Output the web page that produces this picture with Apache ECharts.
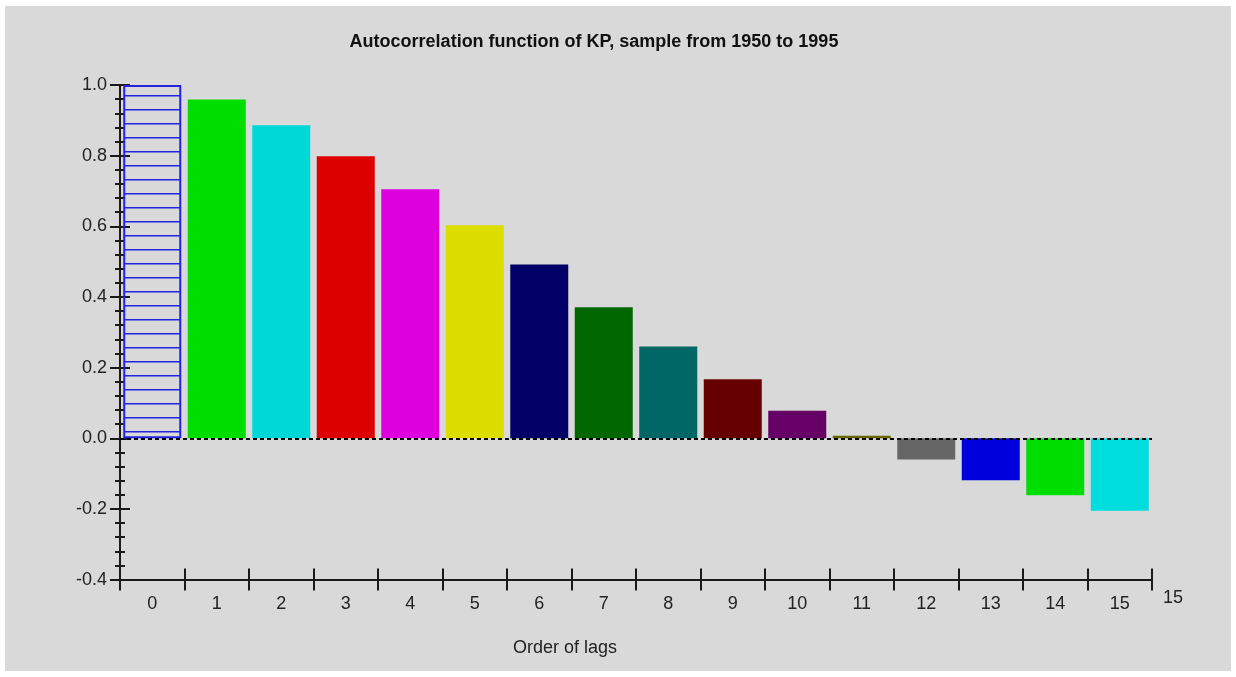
<!DOCTYPE html>
<html>
<head>
<meta charset="utf-8">
<script src="https://cdn.jsdelivr.net/npm/echarts@6/dist/echarts.min.js"></script>
<style>
html,body{margin:0;padding:0;background:#fff;}
#chart{width:1236px;height:677px;}
</style>
</head>
<body>
<div id="chart"></div>
<script>
// ---- data ----
const lags = ['0','1','2','3','4','5','6','7','8','9','10','11','12','13','14','15'];
const acf = [1.0, 0.959, 0.886, 0.798, 0.705, 0.603, 0.492, 0.371, 0.260, 0.167, 0.078, 0.007, -0.060, -0.119, -0.161, -0.205];
const yMin = -0.4, yMax = 1.0, yStep = 0.2;
const titleText = 'Autocorrelation function of KP, sample from 1950 to 1995';
const xAxisTitle = 'Order of lags';
const xAxisEndLabel = '15';

// ---- styles ----
const barColors = ['#2323e0','#00dd00','#00d8d8','#dd0000','#dd00dd','#dddd00','#000066','#006600',
                   '#006666','#660000','#660066','#666600','#666666','#0000dd','#00dd00','#00dddd'];
const FONT = "'Liberation Sans', Arial, sans-serif";

// hatch pattern for lag 0
const pc = document.createElement('canvas');
pc.width = 8; pc.height = 14;
const pctx = pc.getContext('2d');
pctx.fillStyle = '#2323e0';
pctx.fillRect(0, 11, 8, 1.5);

const data = acf.map((v, i) => {
  if (i === 0) {
    return { value: v, itemStyle: { color: { image: pc, repeat: 'repeat' }, borderColor: '#2323e0', borderWidth: 2 } };
  }
  return { value: v, itemStyle: { color: barColors[i] } };
});

const chart = echarts.init(document.getElementById('chart'));
const axisColor = '#1a1a1a';
chart.setOption({
  animation: false,
  backgroundColor: '#ffffff',
  graphic: [
    { type: 'rect', z: -100, zlevel: 0, silent: true, shape: { x: 5, y: 6, width: 1226, height: 665 }, style: { fill: '#d9d9d9' } },
    { type: 'text', x: 594, y: 42, style: { text: titleText, textAlign: 'center', textVerticalAlign: 'middle', font: 'bold 18px ' + FONT, fill: '#111' } },
    { type: 'text', x: 565, y: 648, style: { text: xAxisTitle, textAlign: 'center', textVerticalAlign: 'middle', font: '18px ' + FONT, fill: '#222' } }
  ],
  grid: { left: 120, top: 85, width: 1032, height: 494.6, containLabel: false },
  xAxis: [
    {
      type: 'category', data: lags, boundaryGap: true,
      name: xAxisEndLabel, nameLocation: 'end', nameGap: 11,
      nameTextStyle: { fontFamily: FONT, fontSize: 18, color: '#222', verticalAlign: 'top', padding: [9, 0, 0, 0] },
      axisLine: { onZero: false, lineStyle: { color: axisColor, width: 2 } },
      axisTick: { show: true, length: 11, lineStyle: { color: axisColor, width: 2 }, interval: 0 },
      axisLabel: { fontFamily: FONT, fontSize: 18, color: '#222', margin: 15, interval: 0 },
      splitLine: { show: false }
    },
    {
      type: 'category', data: lags, boundaryGap: true, position: 'bottom',
      axisLine: { show: false, onZero: false },
      axisTick: { show: true, inside: true, length: 11, lineStyle: { color: axisColor, width: 2 }, interval: 0 },
      axisLabel: { show: false },
      splitLine: { show: false }
    }
  ],
  yAxis: [
    {
      type: 'value', min: yMin, max: yMax, interval: yStep,
      axisLine: { show: true, lineStyle: { color: axisColor, width: 2 } },
      axisTick: { show: true, length: 10, lineStyle: { color: axisColor, width: 2 } },
      minorTick: { show: true, splitNumber: 5, length: 5, lineStyle: { color: axisColor, width: 2 } },
      axisLabel: { fontFamily: FONT, fontSize: 18, color: '#222', margin: 13, formatter: v => v.toFixed(1) },
      splitLine: { show: false }
    },
    {
      type: 'value', min: yMin, max: yMax, interval: yStep, position: 'left',
      axisLine: { show: false },
      axisTick: { show: true, inside: true, length: 10, lineStyle: { color: axisColor, width: 2 } },
      minorTick: { show: true, splitNumber: 5, length: 5, lineStyle: { color: axisColor, width: 2 } },
      axisLabel: { show: false },
      splitLine: { show: false }
    }
  ],
  series: [{
    type: 'bar', data: data, barWidth: 58, xAxisIndex: 0, yAxisIndex: 0,
    markLine: {
      silent: true, symbol: 'none', label: { show: false },
      lineStyle: { color: '#000', type: [4, 3], width: 2 },
      data: [{ yAxis: 0 }]
    }
  }]
});
</script>
</body>
</html>
